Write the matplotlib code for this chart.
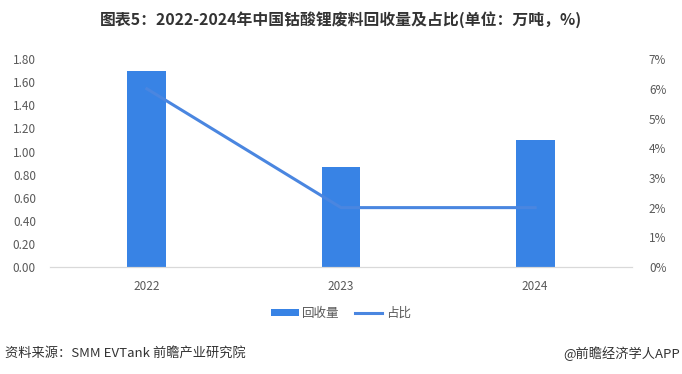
import matplotlib
matplotlib.use('Agg')
import matplotlib.pyplot as plt
import matplotlib.ticker as ticker
import numpy as np

plt.rcParams['font.family'] = ['Noto Sans CJK SC', 'DejaVu Sans']
plt.rcParams['axes.unicode_minus'] = False

# 数据
years = ['2022', '2023', '2024']
recycle = [1.70, 0.87, 1.10]      # 回收量（万吨）
share = [0.06, 0.02, 0.02]        # 占比

bar_color = '#3883E5'
line_color = '#4A86E0'
text_gray = '#595959'

fig = plt.figure(figsize=(6.82, 3.74), dpi=100)
ax = fig.add_axes([0.073, 0.286, 0.854, 0.556])
ax2 = ax.twinx()

x = np.arange(len(years))
ax.bar(x, recycle, width=0.2, color=bar_color, label='回收量', zorder=2)
ax2.plot(x, share, color=line_color, lw=2.2, label='占比', zorder=3,
         solid_joinstyle='round')

ax.set_xlim(-0.5, 2.5)
ax.set_ylim(0, 1.8)
ax.set_yticks(np.arange(0, 1.81, 0.2))
ax.yaxis.set_major_formatter(ticker.FormatStrFormatter('%.2f'))
ax2.set_ylim(0, 0.07)
ax2.set_yticks(np.arange(0, 0.071, 0.01))
ax2.yaxis.set_major_formatter(ticker.PercentFormatter(1.0, decimals=0))

ax.set_xticks(x)
ax.set_xticklabels(years)

for a in (ax, ax2):
    for s in ['top', 'left', 'right']:
        a.spines[s].set_visible(False)
    a.spines['bottom'].set_color('#D9D9D9')
    a.tick_params(length=0, labelsize=8.5, colors=text_gray)
ax.tick_params(axis='y', pad=10)
ax.tick_params(axis='x', pad=9)
ax2.tick_params(axis='y', pad=12)

# 图例
h1, l1 = ax.get_legend_handles_labels()
h2, l2 = ax2.get_legend_handles_labels()
fig.legend(h1 + h2, l1 + l2, loc='center', bbox_to_anchor=(0.5, 0.163), ncol=2,
           frameon=False, fontsize=9, handlelength=2.2, handleheight=0.5,
           columnspacing=1.2, handletextpad=0.3, labelcolor=text_gray)

fig.text(0.5, 0.947, '图表5：2022-2024年中国钴酸锂废料回收量及占比(单位：万吨，%)',
         ha='center', va='center', fontsize=11.4, fontweight='bold', color='#333333')
fig.text(0.008, 0.055, '资料来源：SMM EVTank 前瞻产业研究院', ha='left', va='center',
         fontsize=9.5, color='#333333')
fig.text(0.997, 0.055, '@前瞻经济学人APP', ha='right', va='center',
         fontsize=9.5, color='#333333')

fig.savefig('out.png', dpi=100)
